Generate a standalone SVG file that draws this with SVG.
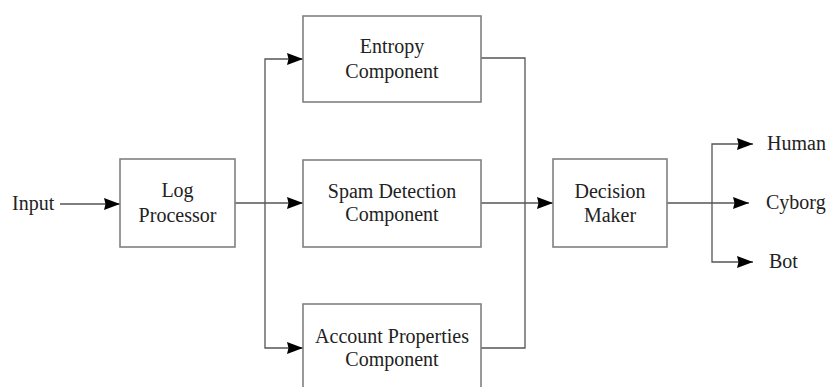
<svg xmlns="http://www.w3.org/2000/svg" width="830" height="387" viewBox="0 0 830 387">
<style>
.box{fill:#fff;stroke:#808080;stroke-width:1.6}
.conn{fill:none;stroke:#555;stroke-width:1.3}
text{font-family:"Liberation Serif","Times New Roman",serif;font-size:20px;fill:#222}
.c{text-anchor:middle}
</style>
<defs>
<marker id="arr" markerUnits="userSpaceOnUse" markerWidth="18" markerHeight="14" refX="16" refY="7" orient="auto">
<path d="M0,1 L16,7 L0,13 L1.5,7 Z" fill="#000"/>
</marker>
</defs>
<rect width="830" height="387" fill="#fff"/>
<g id="connectors">
<path class="conn" d="M60,204 H120" marker-end="url(#arr)"/>
<path class="conn" d="M235,203 H303" marker-end="url(#arr)"/>
<path class="conn" d="M265,203 V59 H303" marker-end="url(#arr)"/>
<path class="conn" d="M265,203 V348 H303" marker-end="url(#arr)"/>
<path class="conn" d="M481,58 H525 V348 H481"/>
<path class="conn" d="M481,203 H553" marker-end="url(#arr)"/>
<path class="conn" d="M667,203 H749" marker-end="url(#arr)"/>
<path class="conn" d="M712,203 V144 H753" marker-end="url(#arr)"/>
<path class="conn" d="M712,203 V262 H753" marker-end="url(#arr)"/>
</g>
<g id="input"><text x="12" y="210">Input</text></g>
<g id="log-processor">
<rect class="box" x="120" y="159" width="115" height="88"/>
<text class="c" x="177.5" y="197">Log</text>
<text class="c" x="177.5" y="222">Processor</text>
</g>
<g id="entropy">
<rect class="box" x="303" y="16" width="178" height="86"/>
<text class="c" x="392" y="53">Entropy</text>
<text class="c" x="392" y="78">Component</text>
</g>
<g id="spam">
<rect class="box" x="303" y="160" width="178" height="87"/>
<text class="c" x="392" y="198">Spam Detection</text>
<text class="c" x="392" y="221">Component</text>
</g>
<g id="account">
<rect class="box" x="303" y="304" width="178" height="90"/>
<text class="c" x="392" y="343">Account Properties</text>
<text class="c" x="392" y="366">Component</text>
</g>
<g id="decision">
<rect class="box" x="553" y="159" width="114" height="88"/>
<text class="c" x="610" y="198">Decision</text>
<text class="c" x="610" y="222">Maker</text>
</g>
<g id="human"><text x="767" y="150">Human</text></g>
<g id="cyborg"><text x="766" y="209">Cyborg</text></g>
<g id="bot"><text x="769" y="268">Bot</text></g>
</svg>
